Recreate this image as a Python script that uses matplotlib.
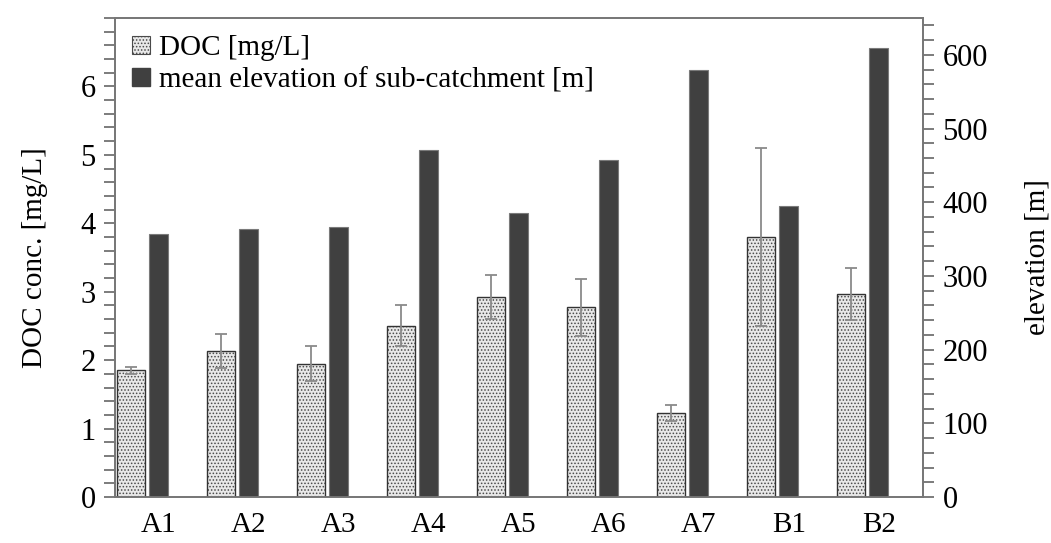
import numpy as np
import matplotlib
matplotlib.use("Agg")
import matplotlib.pyplot as plt
from matplotlib.patches import Patch
from matplotlib.ticker import MultipleLocator

plt.rcParams['font.family'] = 'serif'
plt.rcParams['font.serif'] = ['Liberation Serif', 'DejaVu Serif']
plt.rcParams['hatch.linewidth'] = 0.7

sites = ['A1', 'A2', 'A3', 'A4', 'A5', 'A6', 'A7', 'B1', 'B2']
doc = [1.85, 2.13, 1.95, 2.50, 2.92, 2.77, 1.23, 3.80, 2.97]
doc_err = [0.05, 0.25, 0.25, 0.30, 0.32, 0.42, 0.12, 1.30, 0.38]
elevation = [357, 364, 367, 471, 385, 457, 580, 395, 609]

x = np.arange(len(sites))
fig = plt.figure(figsize=(10.51, 5.43), dpi=100)
ax = fig.add_axes([0.1094, 0.0847, 0.7688, 0.8822])
ax2 = ax.twinx()

# DOC bars: dotted fill, then dark outline on top
ax.bar(x - 0.3, doc, width=0.32, color='#e8e8e8', edgecolor='#4a4a4a',
       hatch='.....', linewidth=0, zorder=2)
ax.bar(x - 0.3, doc, width=0.32, fill=False, edgecolor='#333333',
       linewidth=1.0, zorder=3)
ax.errorbar(x - 0.3, doc, yerr=doc_err, fmt='none', ecolor='#8a8a8a',
            elinewidth=1.3, capsize=4, capthick=1.3, zorder=4)

ax2.bar(x + 0.01, elevation, width=0.21, color='#404040',
        edgecolor='#7a7a7a', linewidth=0.8, zorder=2)

ax.set_xlim(-0.478, 8.5)
ax.set_ylim(0, 7)
ax2.set_ylim(0, 650)

ax.set_xticks(x + 0.01)
ax.set_xticklabels(sites)
ax.tick_params(axis='x', length=0, pad=11, labelsize=21)

ax.set_yticks(np.arange(0, 7))
ax.yaxis.set_minor_locator(MultipleLocator(0.2))
ax2.yaxis.set_major_locator(MultipleLocator(100))
ax2.yaxis.set_minor_locator(MultipleLocator(20))
for a in (ax, ax2):
    a.tick_params(axis='y', which='major', length=8, width=1.2,
                  color='#666666', labelsize=22, pad=6)
    a.tick_params(axis='y', which='minor', length=8, width=1.2,
                  color='#666666')
    for s in a.spines.values():
        s.set_color('#777777')
        s.set_linewidth(1.3)

ax.set_ylabel('DOC conc. [mg/L]', fontsize=21)
ax.yaxis.set_label_coords(-0.083, 0.5)
ax2.set_ylabel('elevation [m]', fontsize=21)
ax2.yaxis.set_label_coords(1.126, 0.5)

handles = [Patch(facecolor='#e8e8e8', edgecolor='#4a4a4a', hatch='.....',
                 linewidth=0.8),
           Patch(facecolor='#404040', edgecolor='#404040')]
ax2.legend(handles, ['DOC [mg/L]', 'mean elevation of sub-catchment [m]'],
           loc='upper left', frameon=False, fontsize=21,
           handlelength=0.6, handleheight=0.6, handletextpad=0.3,
           labelspacing=0.2, borderaxespad=0.3, borderpad=0.3)

fig.savefig('out.png', dpi=100)
